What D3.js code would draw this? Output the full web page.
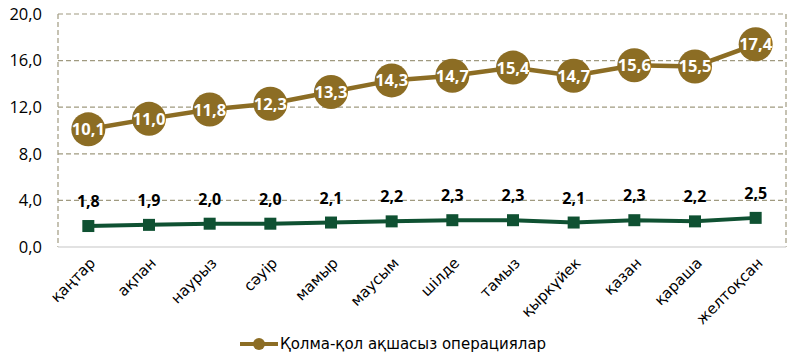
<!DOCTYPE html>
<html>
<head>
<meta charset="utf-8">
<script src="https://d3js.org/d3.v7.min.js"></script>
<style>
  body { margin: 0; background: #fff; }
  svg { display: block; }
</style>
</head>
<body>
<svg id="chart" width="800" height="353"></svg>
<script>
const months = ["қаңтар", "ақпан", "наурыз", "сәуір", "мамыр", "маусым", "шілде", "тамыз", "қыркүйек", "қазан", "қараша", "желтоқсан"];
const cashless = [10.1, 11.0, 11.8, 12.3, 13.3, 14.3, 14.7, 15.4, 14.7, 15.6, 15.5, 17.4];
const cash = [1.8, 1.9, 2.0, 2.0, 2.1, 2.2, 2.3, 2.3, 2.1, 2.3, 2.2, 2.5];
const yTicks = [0, 4, 8, 12, 16, 20];
const legendLabel = "Қолма-қол ақшасыз операциялар";

const gold = "#8c6d24";
const green = "#0f5132";
const fmt = d => d.toFixed(1).replace(".", ",");

const svg = d3.select("#chart");
const margin = { top: 14, right: 14, bottom: 106, left: 58 };
const width = 800 - margin.left - margin.right,
      height = 353 - margin.top - margin.bottom;

const g = svg.append("g").attr("transform", `translate(${margin.left},${margin.top})`);

const x = d3.scaleBand().domain(months).range([0, width]);
const y = d3.scaleLinear().domain([0, 20]).range([height, 0]);
const cx = d => x(d) + x.bandwidth() / 2;

// gridlines
g.selectAll(".grid")
  .data(yTicks.filter(t => t > 0))
  .enter().append("line")
  .attr("x1", 0).attr("x2", width)
  .attr("y1", d => y(d)).attr("y2", d => y(d))
  .attr("stroke", "#a09a80").attr("stroke-width", 1.2)
  .attr("stroke-dasharray", "5,3");

// side borders
[0, width].forEach(px => {
  g.append("line")
    .attr("x1", px).attr("x2", px).attr("y1", 0).attr("y2", height)
    .attr("stroke", "#a09a80").attr("stroke-width", 1.2)
    .attr("stroke-dasharray", "5,3");
});

// baseline
g.append("line")
  .attr("x1", 0).attr("x2", width).attr("y1", height).attr("y2", height)
  .attr("stroke", "#d9d9d9").attr("stroke-width", 1.5);

// y axis labels
const yAxis = g.append("g")
  .call(d3.axisLeft(y).tickValues(yTicks).tickFormat(fmt).tickSize(0).tickPadding(16));
yAxis.select(".domain").remove();
yAxis.selectAll("text")
  .style("font-family", "'Open Sans', sans-serif")
  .style("font-size", "16.5px")
  .attr("fill", "#000");

// x axis labels
const xAxis = g.append("g")
  .attr("transform", `translate(0,${height})`)
  .call(d3.axisBottom(x).tickSize(0).tickPadding(0));
xAxis.select(".domain").remove();
xAxis.selectAll("text")
  .style("font-family", "'DejaVu Sans', sans-serif")
  .style("font-size", "15px")
  .attr("fill", "#000")
  .attr("text-anchor", "end")
  .attr("dy", 0)
  .attr("transform", "translate(8,17) rotate(-45)");

// green series
const lineGreen = d3.line().x((d, i) => cx(months[i])).y(d => y(d));
g.append("path").datum(cash)
  .attr("d", lineGreen).attr("fill", "none")
  .attr("stroke", green).attr("stroke-width", 4);
g.selectAll(".sq").data(cash).enter().append("rect")
  .attr("x", (d, i) => cx(months[i]) - 6)
  .attr("y", d => y(d) - 6)
  .attr("width", 12).attr("height", 12)
  .attr("fill", green);
g.selectAll(".lblG").data(cash).enter().append("text")
  .attr("x", (d, i) => cx(months[i]))
  .attr("y", d => y(d) - 19)
  .attr("text-anchor", "middle")
  .style("font-family", "'Open Sans', sans-serif")
  .style("font-weight", "bold")
  .style("font-size", "16px")
  .attr("fill", "#000")
  .text(fmt);

// gold series
const lineGold = d3.line().x((d, i) => cx(months[i])).y(d => y(d));
g.append("path").datum(cashless)
  .attr("d", lineGold).attr("fill", "none")
  .attr("stroke", gold).attr("stroke-width", 4.5);
g.selectAll(".dot").data(cashless).enter().append("circle")
  .attr("cx", (d, i) => cx(months[i]))
  .attr("cy", d => y(d))
  .attr("r", 17)
  .attr("fill", gold);
g.selectAll(".lblY").data(cashless).enter().append("text")
  .attr("x", (d, i) => cx(months[i]))
  .attr("y", d => y(d) + 6)
  .attr("text-anchor", "middle")
  .style("font-family", "'Open Sans', sans-serif")
  .style("font-weight", "bold")
  .style("font-size", "16.5px")
  .attr("fill", "#fff")
  .text(fmt);

// legend
const lg = svg.append("g").attr("transform", "translate(240,344)");
lg.append("line").attr("x1", 0).attr("x2", 38).attr("y1", 0).attr("y2", 0)
  .attr("stroke", gold).attr("stroke-width", 4);
lg.append("circle").attr("cx", 19).attr("cy", 0).attr("r", 6).attr("fill", gold);
lg.append("text").attr("x", 40).attr("y", 5)
  .style("font-family", "'DejaVu Sans', sans-serif")
  .style("font-size", "15px")
  .attr("fill", "#000")
  .text(legendLabel);
</script>
</body>
</html>
